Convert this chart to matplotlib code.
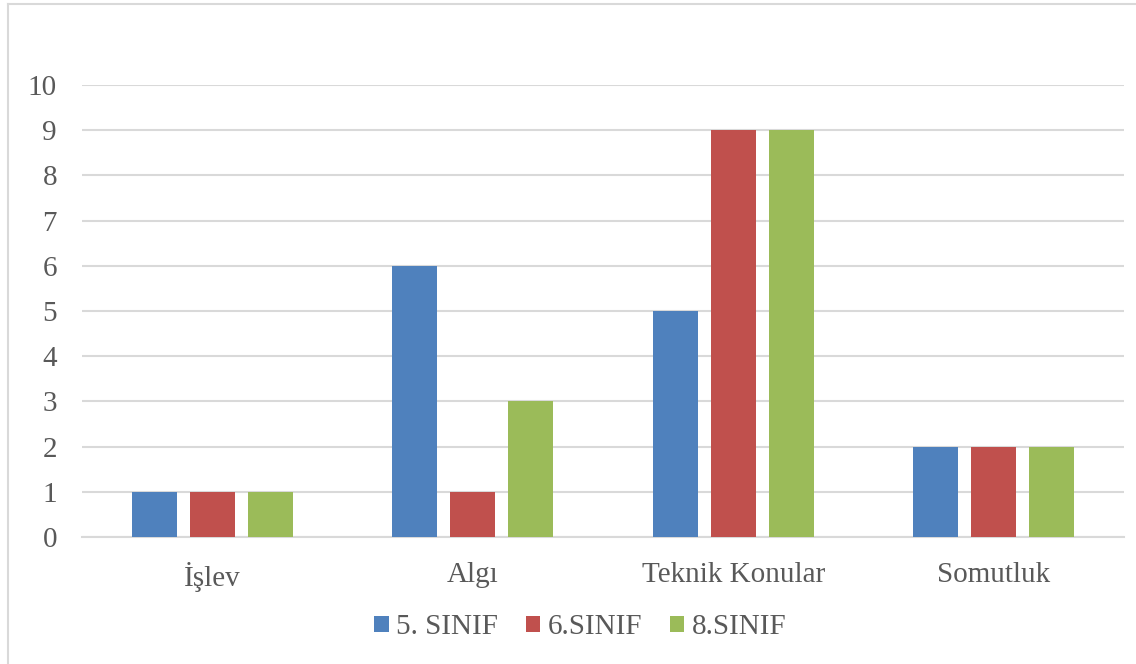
import numpy as np
import matplotlib.pyplot as plt
from matplotlib.lines import Line2D

# Categories and series values
categories = ['İşlev', 'Algı', 'Teknik Konular', 'Somutluk']
series_names = ['5. SINIF', '6.SINIF', '8.SINIF']
sinif_5 = [1, 6, 5, 2]
sinif_6 = [1, 1, 9, 2]
sinif_8 = [1, 3, 9, 2]

colors = ['#4f81bd', '#c0504d', '#9bbb59']
text_color = '#595959'
grid_color = '#d9d9d9'

plt.rcParams['font.family'] = ['Liberation Serif', 'DejaVu Serif']

fig = plt.figure(figsize=(11.36, 6.64), dpi=100)
ax = fig.add_axes([82 / 1136, 1 - 537 / 664, (1124 - 82) / 1136, (537 - 85) / 664])

x = np.arange(len(categories))
width = 0.173
offset = 0.2226
for i, (vals, name) in enumerate(zip([sinif_5, sinif_6, sinif_8], series_names)):
    ax.bar(x + (i - 1) * offset, vals, width, color=colors[i], label=name, zorder=3)

ax.set_xlim(-0.5, len(categories) - 0.5)
ax.set_ylim(0, 10)
ax.set_yticks(range(0, 11))
ax.set_xticks(x)
ax.set_xticklabels(categories)
ax.yaxis.grid(True, color=grid_color, linewidth=1.5, zorder=0)
ax.tick_params(axis='both', length=0, labelsize=21, colors=text_color)
ax.tick_params(axis='y', pad=18)
ax.tick_params(axis='x', pad=18)
for side in ['top', 'right', 'left']:
    ax.spines[side].set_visible(False)
ax.spines['bottom'].set_color(grid_color)
ax.spines['bottom'].set_linewidth(1.5)

# Legend under the axes
ax.legend(loc='center', bbox_to_anchor=(0.478, -0.2), ncol=3, frameon=False,
          fontsize=21, handlelength=0.5, handleheight=0.5, handletextpad=0.25,
          columnspacing=0.95, labelcolor=text_color)

# Chart area border (left and top edges)
fig.add_artist(Line2D([7.5 / 1136, 7.5 / 1136], [0, 1 - 3.5 / 664], transform=fig.transFigure,
                      color=grid_color, linewidth=1.5))
fig.add_artist(Line2D([7.5 / 1136, 1], [1 - 3.5 / 664, 1 - 3.5 / 664], transform=fig.transFigure,
                      color=grid_color, linewidth=1.5))

fig.savefig('out.png', dpi=100, facecolor='white')
